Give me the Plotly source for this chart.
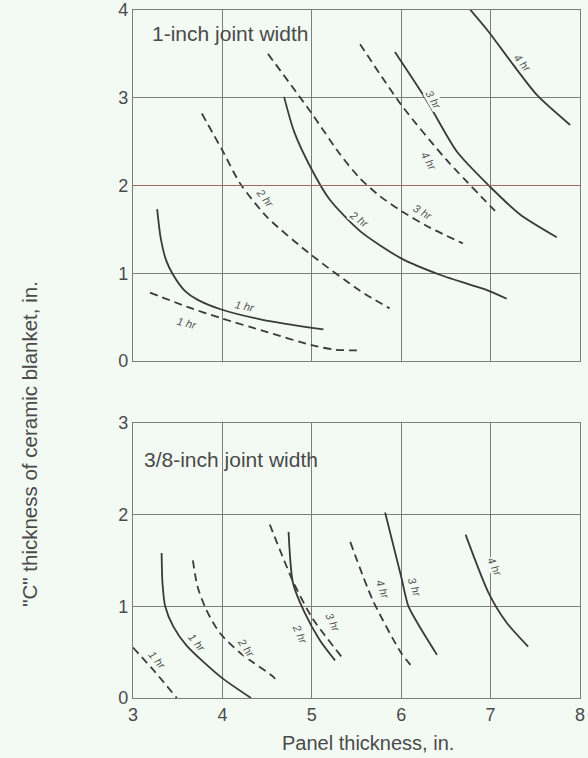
import plotly.graph_objects as go

# ---------------- Data ----------------
# Top panel: 1-inch joint width
top_1hr_solid_x = [3.27, 3.31, 3.37, 3.45, 3.58, 3.72, 3.98, 4.45, 5.13]
top_1hr_solid_y = [1.73, 1.40, 1.15, 0.98, 0.80, 0.70, 0.59, 0.47, 0.36]
top_1hr_dash_x = [3.19, 3.60, 3.98, 4.50, 5.00, 5.25, 5.54]
top_1hr_dash_y = [0.78, 0.62, 0.49, 0.33, 0.18, 0.13, 0.12]
top_2hr_dash_x = [3.77, 4.00, 4.20, 4.50, 4.98, 5.54, 5.87]
top_2hr_dash_y = [2.82, 2.40, 2.02, 1.64, 1.22, 0.80, 0.60]
top_2hr_solid_x = [4.69, 4.80, 4.99, 5.20, 5.54, 6.00, 6.44, 6.98, 7.18]
top_2hr_solid_y = [3.01, 2.62, 2.20, 1.84, 1.48, 1.17, 0.98, 0.80, 0.71]
top_3hr_dash_x = [4.51, 5.00, 5.32, 5.54, 5.76, 6.00, 6.32, 6.69]
top_3hr_dash_y = [3.50, 2.82, 2.35, 2.08, 1.88, 1.71, 1.52, 1.34]
top_4hr_dash_x = [5.54, 6.00, 6.50, 7.05]
top_4hr_dash_y = [3.61, 2.92, 2.30, 1.71]
top_3hr_solid_x = [5.93, 6.29, 6.62, 6.98, 7.33, 7.74]
top_3hr_solid_y = [3.52, 2.96, 2.39, 2.00, 1.67, 1.41]
top_4hr_solid_x = [6.75, 6.98, 7.25, 7.52, 7.89]
top_4hr_solid_y = [4.03, 3.75, 3.38, 3.03, 2.69]

# Bottom panel: 3/8-inch joint width
bot_1hr_solid_x = [3.32, 3.33, 3.36, 3.45, 3.60, 3.98, 4.32]
bot_1hr_solid_y = [1.58, 1.25, 1.00, 0.78, 0.57, 0.23, 0.00]
bot_1hr_dash_x = [3.00, 3.25, 3.49]
bot_1hr_dash_y = [0.55, 0.28, 0.00]
bot_2hr_dash_x = [3.67, 3.72, 3.82, 3.97, 4.20, 4.57, 4.61]
bot_2hr_dash_y = [1.50, 1.22, 0.96, 0.71, 0.49, 0.23, 0.18]
bot_2hr_solid_x = [4.74, 4.79, 4.92, 5.09, 5.26]
bot_2hr_solid_y = [1.81, 1.25, 0.93, 0.63, 0.41]
bot_3hr_dash_x = [4.53, 4.79, 5.00, 5.34]
bot_3hr_dash_y = [1.89, 1.27, 0.88, 0.44]
bot_4hr_dash_x = [5.43, 5.68, 6.00, 6.13]
bot_4hr_dash_y = [1.70, 1.07, 0.49, 0.33]
bot_3hr_solid_x = [5.82, 6.00, 6.08, 6.21, 6.40]
bot_3hr_solid_y = [2.02, 1.32, 1.00, 0.77, 0.47]
bot_4hr_solid_x = [6.72, 6.98, 7.18, 7.42]
bot_4hr_solid_y = [1.78, 1.14, 0.82, 0.56]

# Curve labels: (text, x, y, angle)
top_labels = [
    ("1 hr", 4.25, 0.63, 12), ("1 hr", 3.60, 0.43, 15),
    ("2 hr", 4.48, 1.86, 52), ("2 hr", 5.53, 1.62, 35),
    ("3 hr", 6.24, 1.70, 30), ("3 hr", 6.36, 2.97, 60),
    ("4 hr", 6.31, 2.28, 60), ("4 hr", 7.36, 3.40, 50),
]
bot_labels = [
    ("1 hr", 3.72, 0.60, 50), ("1 hr", 3.27, 0.41, 50),
    ("2 hr", 4.27, 0.55, 55), ("2 hr", 4.87, 0.70, 65),
    ("3 hr", 5.24, 0.82, 65), ("4 hr", 5.80, 1.18, 70),
    ("3 hr", 6.15, 1.21, 70), ("4 hr", 7.05, 1.43, 65),
]

x_ticks = [3, 4, 5, 6, 7, 8]
top_y_ticks = [0, 1, 2, 3, 4]
bot_y_ticks = [0, 1, 2, 3]

# ---------------- Figure ----------------
BG = "#f3faf4"
INK = "#3a3a3a"
GRID = "#7d7d7d"
DASH = "8px,5px"
FONT = "Liberation Sans, Arial, sans-serif"
TXT = "#4a4a4a"

fig = go.Figure()

top_series = [
    (top_1hr_solid_x, top_1hr_solid_y, "solid"),
    (top_1hr_dash_x, top_1hr_dash_y, DASH),
    (top_2hr_dash_x, top_2hr_dash_y, DASH),
    (top_2hr_solid_x, top_2hr_solid_y, "solid"),
    (top_3hr_dash_x, top_3hr_dash_y, DASH),
    (top_4hr_dash_x, top_4hr_dash_y, DASH),
    (top_3hr_solid_x, top_3hr_solid_y, "solid"),
    (top_4hr_solid_x, top_4hr_solid_y, "solid"),
]
bot_series = [
    (bot_1hr_solid_x, bot_1hr_solid_y, "solid"),
    (bot_1hr_dash_x, bot_1hr_dash_y, DASH),
    (bot_2hr_dash_x, bot_2hr_dash_y, DASH),
    (bot_2hr_solid_x, bot_2hr_solid_y, "solid"),
    (bot_3hr_dash_x, bot_3hr_dash_y, DASH),
    (bot_4hr_dash_x, bot_4hr_dash_y, DASH),
    (bot_3hr_solid_x, bot_3hr_solid_y, "solid"),
    (bot_4hr_solid_x, bot_4hr_solid_y, "solid"),
]

for xs, ys, d in top_series:
    fig.add_trace(go.Scatter(x=xs, y=ys, mode="lines", xaxis="x", yaxis="y",
                             line=dict(color=INK, width=1.8, dash=d, shape="spline", smoothing=0.7),
                             showlegend=False, hoverinfo="skip"))
for xs, ys, d in bot_series:
    fig.add_trace(go.Scatter(x=xs, y=ys, mode="lines", xaxis="x2", yaxis="y2",
                             line=dict(color=INK, width=1.8, dash=d, shape="spline", smoothing=0.7),
                             showlegend=False, hoverinfo="skip"))

annotations = []
for t, x, y, a in top_labels:
    annotations.append(dict(text="<i>" + t + "</i>", x=x, y=y, xref="x", yref="y", showarrow=False,
                            textangle=a, font=dict(size=11, color="#555", family=FONT),
                            bgcolor=BG, borderpad=0))
for t, x, y, a in bot_labels:
    annotations.append(dict(text="<i>" + t + "</i>", x=x, y=y, xref="x2", yref="y2", showarrow=False,
                            textangle=a, font=dict(size=11, color="#555", family=FONT),
                            bgcolor=BG, borderpad=0))
annotations.append(dict(text="1-inch joint width", x=3.19, y=3.73, xref="x", yref="y",
                        xanchor="left", showarrow=False, font=dict(size=21, color=TXT, family=FONT)))
annotations.append(dict(text="3/8-inch joint width", x=3.1, y=2.6, xref="x2", yref="y2",
                        xanchor="left", showarrow=False, font=dict(size=21, color=TXT, family=FONT)))
annotations.append(dict(text='"C" thickness of ceramic blanket, in.', x=-0.232, y=0.37,
                        xref="paper", yref="paper", showarrow=False, textangle=-90,
                        xanchor="center", yanchor="middle",
                        font=dict(size=20.5, color=TXT, family=FONT)))
annotations.append(dict(text="Panel thickness, in.", x=0.526, y=-0.066, xref="paper", yref="paper",
                        xanchor="center", yanchor="middle", showarrow=False,
                        font=dict(size=20, color=TXT, family=FONT)))

axis_common = dict(showgrid=True, gridcolor=GRID, gridwidth=1, showline=True, linecolor=GRID,
                   linewidth=1.2, mirror=True, zeroline=False, ticks="",
                   tickfont=dict(size=18, color=TXT, family=FONT))

fig.update_layout(
    width=588, height=758,
    margin=dict(l=133, r=8, t=10, b=60, autoexpand=False),
    paper_bgcolor=BG, plot_bgcolor=BG,
    xaxis=dict(axis_common, range=[3, 8], tickvals=x_ticks, showticklabels=False,
               anchor="y", domain=[0, 1]),
    yaxis=dict(axis_common, range=[0, 4], tickvals=top_y_ticks, domain=[0.4898, 1.0],
               anchor="x"),
    xaxis2=dict(axis_common, range=[3, 8], tickvals=x_ticks, anchor="y2", domain=[0, 1]),
    yaxis2=dict(axis_common, range=[0, 3], tickvals=bot_y_ticks, domain=[0.0, 0.4003],
                anchor="x2"),
    annotations=annotations,
    shapes=[dict(type="line", xref="x", yref="y", x0=3, x1=8, y0=2, y1=2,
                 line=dict(color="#a8665a", width=1.1), layer="above")],
)

fig.write_html("out.html", config={"displayModeBar": False},
               post_script="document.body.style.margin='0';document.body.style.overflow='hidden';"
                           "document.body.style.background='" + BG + "';")
